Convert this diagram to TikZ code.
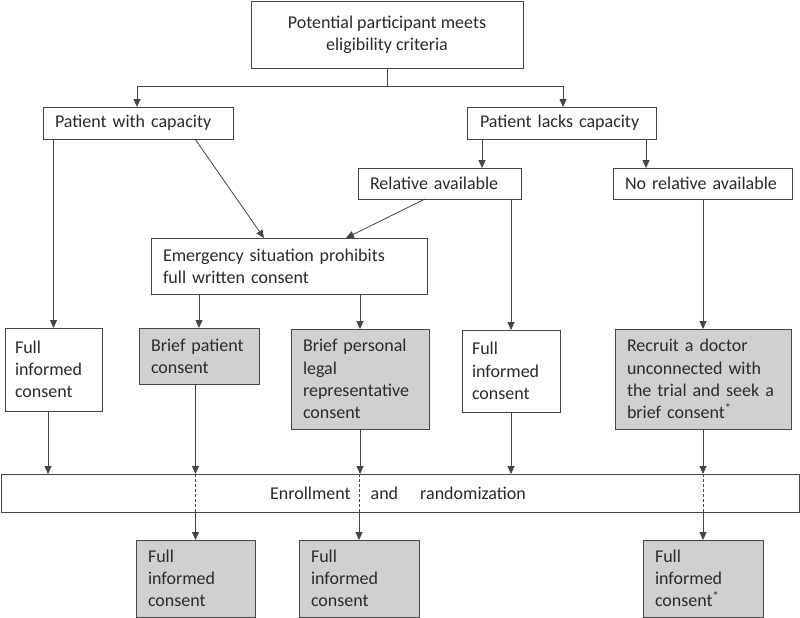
\documentclass[tikz,border=0pt]{standalone}
\usepackage{fontspec}
\setmainfont{Carlito}
\usetikzlibrary{arrows.meta}
\definecolor{linec}{HTML}{454545}
\definecolor{textc}{HTML}{2A2A2A}
\definecolor{boxgray}{HTML}{D0D0D0}
\tikzset{
  box/.style={draw=linec, line width=0.9pt, rectangle, inner xsep=0pt, inner ysep=0pt,
    font=\fontsize{18}{22.3}\selectfont, text=textc, outer sep=0pt},
  lbox/.style args={#1/#2/#3}{box, minimum width=#1, minimum height=#2, text width=#1-2*#3, align=left},
  grayfill/.style={fill=boxgray},
  conn/.style={draw=linec, line width=0.8pt},
  arr/.style={conn, -{Triangle[length=8pt,width=7pt]}},
  dashconn/.style={conn, dashed, dash pattern=on 3pt off 2pt}
}
\begin{document}
\begin{tikzpicture}[x=1pt,y=-1pt]
\useasboundingbox (0,0) rectangle (800,618);
% nodes
\node[box, minimum width=272pt, minimum height=67pt, align=center] (top) at (387,34.5)
  {Potential participant meets\\eligibility criteria};
\node[lbox={190pt/32pt/12pt}] (pwc) at (138,123) {Patient with capacity};
\node[lbox={189pt/32pt/13pt}] (plc) at (561.5,123) {Patient lacks capacity};
\node[lbox={163pt/31pt/12pt}] (rel) at (439.5,183.5) {Relative available};
\node[lbox={179pt/31pt/12pt}] (norel) at (702.5,183.5) {No relative available};
\node[lbox={276pt/56pt/12pt}] (emerg) at (289,266) {Emergency situation prohibits\\full written consent};
\node[lbox={97pt/83pt/10pt}] (fic1) at (53.5,369.5) {Full\\informed\\consent};
\node[lbox={120pt/56pt/12pt}, grayfill] (bpc) at (199,356) {Brief patient\\consent};
\node[lbox={138pt/100pt/12pt}, grayfill] (bplr) at (360,379) {Brief personal\\legal\\representative\\consent};
\node[lbox={98pt/82pt/10pt}] (fic2) at (511,371) {Full\\informed\\consent};
\node[lbox={176pt/100pt/12pt}, grayfill] (recruit) at (703,379) {Recruit a doctor\\unconnected with\\the trial and seek a\\brief consent\textsuperscript{*}};
\node[box, minimum width=798pt, minimum height=38pt] (enroll) at (400,493)
  {\hspace*{-4pt}Enrollment\hspace{20pt}and\hspace{22pt}randomization};
\node[lbox={119pt/77pt/12pt}, grayfill] (fic3) at (195.5,578.5) {Full\\informed\\consent};
\node[lbox={120pt/77pt/12pt}, grayfill] (fic4) at (359,578.5) {Full\\informed\\consent};
\node[lbox={120pt/77pt/12pt}, grayfill] (fic5) at (703,578.5) {Full\\informed\\consent\textsuperscript{*}};
% connectors
\draw[conn] (top.south) -- ++(0,18) coordinate (br);
\draw[arr] (br) -| ([xshift=-1pt]pwc.north);
\draw[arr] (br) -| ([xshift=1.5pt]plc.north);
\draw[arr] ([xshift=-79.5pt]plc.south) -- ([xshift=42.5pt]rel.north);
\draw[arr] ([xshift=84.5pt]plc.south) -- ([xshift=-56.5pt]norel.north);
\draw[arr] (pwc.south -| fic1.north) -- (fic1.north);
\draw[arr] ([xshift=57pt]pwc.south) -- ([xshift=-25pt]emerg.north);
\draw[arr] ([xshift=-14.5pt]rel.south) -- ([xshift=57pt]emerg.north);
\draw[arr] (rel.south -| fic2.north) -- (fic2.north);
\draw[arr] (norel.south -| recruit.north) -- (recruit.north);
\draw[arr] (emerg.south -| bpc.north) -- (bpc.north);
\draw[arr] (emerg.south -| bplr.north) -- (bplr.north);
% to enrollment
\draw[arr] ([xshift=-5.5pt]fic1.south) -- ([xshift=-5.5pt]fic1.south |- enroll.north);
\draw[arr] (bpc.south -| fic3.north) -- (fic3.north |- enroll.north);
\draw[arr] (bplr.south) -- (bplr.south |- enroll.north);
\draw[arr] (fic2.south) -- (fic2.south |- enroll.north);
\draw[arr] (recruit.south) -- (recruit.south |- enroll.north);
% through enrollment
\draw[dashconn] (fic3.north |- enroll.north) -- (fic3.north |- enroll.south);
\draw[dashconn] (fic4.north |- enroll.north) -- (fic4.north |- enroll.south);
\draw[dashconn] (fic5.north |- enroll.north) -- (fic5.north |- enroll.south);
\draw[arr] (fic3.north |- enroll.south) -- (fic3.north);
\draw[arr] (fic4.north |- enroll.south) -- (fic4.north);
\draw[arr] (fic5.north |- enroll.south) -- (fic5.north);
\end{tikzpicture}
\end{document}
